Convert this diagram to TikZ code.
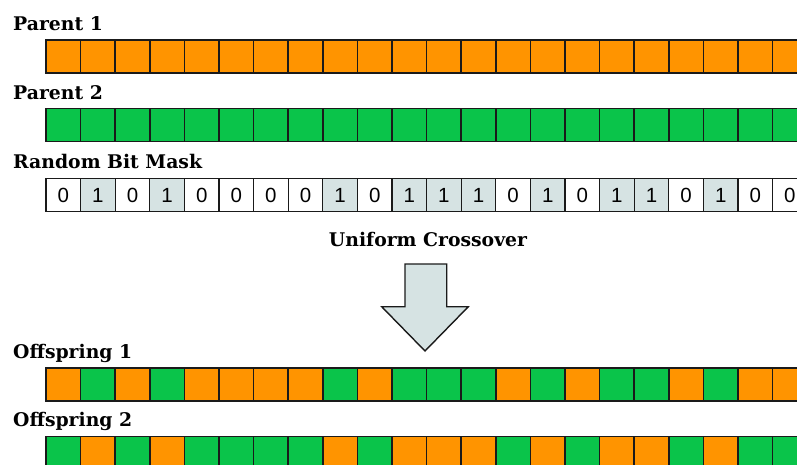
\documentclass[tikz,border=0pt]{standalone}
\usepackage{fontspec}
\setmainfont{DejaVu Serif}
\newfontfamily\digitfont{Liberation Sans}
\definecolor{geneorange}{RGB}{255,148,0}
\definecolor{genegreen}{RGB}{10,196,74}
\definecolor{maskgray}{RGB}{214,227,227}
\definecolor{edgedark}{RGB}{26,26,26}

\begin{document}
\begin{tikzpicture}[
    x=1pt, y=1pt,
    cell/.style={
        draw=edgedark,
        line width=1.6pt,
        fill=#1,
        minimum width=34.6pt,
        minimum height=33pt,
        inner sep=0pt,
        outer sep=0pt
    },
    bitcell/.style={
        cell=#1,
        line width=1.1pt,
        font=\digitfont\fontsize{20.5}{21}\selectfont
    },
    rowlabel/.style={font=\bfseries\fontsize{18.8}{22}\selectfont, anchor=base west, inner sep=0pt}
]
\clip (0,0) rectangle (797,-465);

% --- cell width and row centres (pure numbers, unit pt) ---
\def\wC{34.6}    % cell width
\def\xO{46}      % left edge of every row
\def\yPa{-56.5}  % Parent 1
\def\yPb{-125}   % Parent 2
\def\yM{-195}    % bit mask
\def\yOa{-384.5} % Offspring 1
\def\yOb{-453}   % Offspring 2

% ---- row labels ----
\node[rowlabel] (lblPa) at (13,-30.5) {Parent 1};
\node[rowlabel] (lblPb) at (13,-100) {Parent 2};
\node[rowlabel] (lblM) at (13,-168) {Random Bit Mask};
\node[rowlabel] (lblOa) at (13,-358) {Offspring 1};
\node[rowlabel] (lblOb) at (13,-426.5) {Offspring 2};

% ---- cells: parents, mask, offspring ----
\foreach \b [count=\i] in {0,1,0,1,0,0,0,0,1,0,1,1,1,0,1,0,1,1,0,1,0,0} {
    \pgfmathsetmacro{\xc}{\xO + \wC*(\i-0.5)}
    \ifnum\b=1
        \def\mfill{maskgray}\def\ofa{genegreen}\def\ofb{geneorange}
    \else
        \def\mfill{white}\def\ofa{geneorange}\def\ofb{genegreen}
    \fi
    \node[cell=geneorange] (pa-\i) at (\xc,\yPa) {};
    \node[cell=genegreen] (pb-\i) at (\xc,\yPb) {};
    \node[bitcell=\mfill] (m-\i) at (\xc,\yM) {\b};
    \node[cell=\ofa] (oa-\i) at (\xc,\yOa) {};
    \node[cell=\ofb] (ob-\i) at (\xc,\yOb) {};
}

% ---- crossover arrow ----
\node[font=\bfseries\fontsize{18.8}{22}\selectfont, anchor=base, inner sep=0pt]
    (lblX) at (428,-246.5) {Uniform Crossover};
\draw[draw=edgedark, line width=1.4pt, fill=maskgray, line join=miter]
    (405,-264) -- (446.7,-264) -- (446.7,-306.7) -- (468.3,-306.7)
    -- (425,-351) -- (381.7,-306.7) -- (405,-306.7) -- cycle;

\end{tikzpicture}
\end{document}
